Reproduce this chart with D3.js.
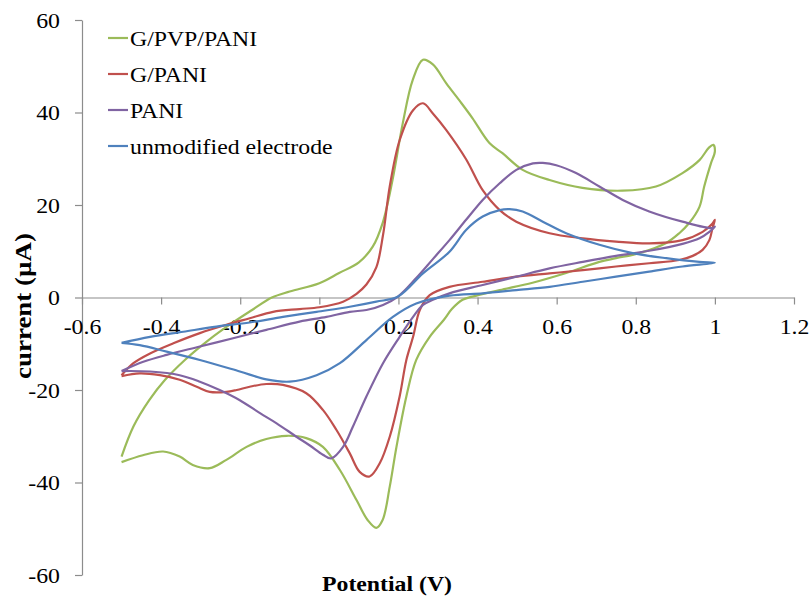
<!DOCTYPE html>
<html>
<head>
<meta charset="utf-8">
<script src="https://cdn.jsdelivr.net/npm/d3@7"></script>
<style>
  html, body { margin: 0; padding: 0; background: #fff; }
  svg { display: block; }
  text { font-family: "Liberation Serif", "Times New Roman", serif; fill: #000; }
</style>
</head>
<body>
<svg id="chart" width="811" height="598"></svg>
<script>
// Cyclic voltammograms: each loop is the anodic sweep (-0.5 V -> 1.0 V)
// followed by the cathodic return sweep, as [potential (V), current (µA)].
const gPvpPani = [
  [-0.50,-34.4],[-0.47,-27.9],[-0.43,-22.2],[-0.39,-17.8],[-0.34,-13.5],[-0.28,-9.2],
  [-0.22,-5.5],[-0.17,-2.7],[-0.12,0.0],[-0.075,1.3],[0.0,3.1],[0.05,5.3],[0.10,7.6],
  [0.135,11.0],[0.16,16.1],[0.185,25.4],[0.211,37.7],[0.236,47.0],[0.262,51.4],
  [0.287,50.4],[0.321,46.3],[0.355,42.5],[0.387,38.8],[0.43,33.4],[0.463,31.2],
  [0.514,27.6],[0.582,25.4],[0.665,23.7],[0.766,23.1],
  [0.851,24.0],[0.918,26.9],[0.961,29.7],[0.985,32.4],[0.996,33.0],[1.0,31.6],
  [0.99,29.0],[0.973,24.0],[0.961,19.6],[0.935,16.1],[0.91,13.9],[0.877,11.8],
  [0.809,9.6],[0.75,8.5],[0.708,7.7],[0.624,5.3],[0.539,3.2],[0.456,1.6],[0.387,0.2],
  [0.362,-0.5],[0.335,-2.5],[0.315,-4.8],[0.279,-8.5],[0.245,-13.5],[0.22,-21.4],
  [0.195,-32.3],[0.178,-40.9],[0.16,-48.1],[0.144,-49.8],[0.122,-48.1],[0.094,-43.8],
  [0.052,-37.3],[0.009,-32.3],[-0.033,-30.4],[-0.083,-29.9],[-0.134,-30.6],
  [-0.184,-32.3],[-0.235,-35.1],[-0.277,-36.9],[-0.32,-36.2],[-0.353,-34.4],
  [-0.395,-33.3],[-0.446,-34.1],[-0.50,-35.6]
];

const gPani = [
  [-0.50,-16.8],[-0.47,-14.2],[-0.428,-12.1],[-0.369,-9.9],[-0.302,-7.7],[-0.235,-5.9],
  [-0.176,-4.5],[-0.117,-3.1],[-0.05,-2.5],[0.0,-2.1],[0.06,-0.9],[0.094,0.8],
  [0.119,2.8],[0.144,6.5],[0.161,13.5],[0.178,24.0],[0.203,34.0],[0.237,40.5],
  [0.262,42.0],[0.287,39.8],[0.321,36.2],[0.371,29.9],[0.413,23.2],[0.456,18.9],
  [0.498,16.4],[0.582,13.9],[0.666,12.8],[0.75,12.1],
  [0.834,11.7],[0.918,12.4],[0.969,14.2],[0.994,16.0],[1.0,16.8],
  [0.994,15.0],[0.986,12.4],[0.969,10.3],[0.944,9.0],[0.91,8.1],[0.834,7.4],
  [0.75,6.7],[0.666,5.9],[0.582,5.2],[0.498,4.5],[0.413,3.4],[0.329,2.3],[0.279,0.5],
  [0.254,-2.7],[0.237,-8.5],[0.22,-13.5],[0.203,-21.4],[0.178,-30.1],[0.153,-35.8],
  [0.127,-38.7],[0.102,-37.7],[0.077,-33.7],[0.043,-28.6],[0.009,-24.3],[-0.033,-20.7],
  [-0.092,-18.9],[-0.134,-18.7],[-0.176,-19.3],[-0.209,-20.0],[-0.235,-20.4],
  [-0.277,-20.4],[-0.31,-19.3],[-0.353,-17.8],[-0.403,-16.8],[-0.454,-16.4],[-0.50,-17.0]
];

const pani = [
  [-0.50,-15.9],[-0.445,-13.9],[-0.386,-12.4],[-0.302,-10.6],[-0.218,-8.8],[-0.134,-7.0],
  [-0.05,-5.2],[0.018,-4.2],[0.077,-3.1],[0.119,-2.7],[0.161,-1.6],[0.199,0.2],
  [0.245,4.2],[0.287,8.3],[0.329,12.4],[0.371,16.8],[0.413,21.1],[0.456,24.7],
  [0.498,27.6],[0.54,29.0],[0.565,29.1],[0.599,28.6],[0.649,26.9],[0.708,24.0],
  [0.767,21.1],[0.834,18.6],[0.918,16.4],[0.994,15.0],[1.0,15.3],
  [0.986,14.2],[0.961,12.8],[0.918,11.6],[0.834,10.1],[0.75,9.0],[0.666,7.7],
  [0.582,6.3],[0.498,4.5],[0.413,2.7],[0.329,0.9],[0.287,-0.5],[0.262,-1.6],
  [0.237,-4.2],[0.203,-8.5],[0.161,-14.2],[0.119,-21.4],[0.085,-27.9],[0.06,-32.3],
  [0.03,-34.8],[0.009,-34.0],[-0.024,-32.0],[-0.058,-30.1],[-0.108,-27.2],[-0.15,-25.0],
  [-0.201,-22.2],[-0.252,-20.0],[-0.302,-18.2],[-0.353,-16.8],[-0.428,-16.0],[-0.50,-15.9]
];

const bareElectrode = [
  [-0.50,-9.8],[-0.428,-8.5],[-0.344,-7.4],[-0.26,-6.3],[-0.176,-5.4],[-0.092,-4.2],
  [-0.007,-3.1],[0.077,-2.0],[0.144,-0.9],[0.199,0.2],[0.262,5.2],[0.329,9.9],
  [0.371,14.6],[0.413,17.5],[0.456,18.9],[0.481,19.1],[0.514,18.6],[0.565,16.4],
  [0.624,13.9],[0.708,11.4],[0.792,9.6],[0.877,8.5],[0.961,7.7],[1.0,7.5],
  [0.918,6.7],[0.834,5.6],[0.75,4.5],[0.666,3.4],[0.582,2.3],[0.498,1.6],[0.413,0.9],
  [0.329,0.4],[0.245,-1.3],[0.186,-4.2],[0.119,-9.2],[0.052,-14.2],[-0.007,-16.8],
  [-0.075,-18.2],[-0.134,-17.7],[-0.201,-16.0],[-0.302,-13.5],[-0.386,-11.7],
  [-0.454,-10.3],[-0.50,-9.8]
];

const seriesNames = ["G/PVP/PANI", "G/PANI", "PANI", "unmodified electrode"];
const seriesColors = ["#9BBB59", "#C0504D", "#8064A2", "#4F81BD"];
const seriesData = [gPvpPani, gPani, pani, bareElectrode];

const xTicks = [-0.6, -0.4, -0.2, 0, 0.2, 0.4, 0.6, 0.8, 1, 1.2];
const yTicks = [-60, -40, -20, 0, 20, 40, 60];

const svg = d3.select("#chart");
const axisColor = "#8c8c8c";
const widen = 1.08; // glyphs are drawn slightly wide

// Stretch a text element horizontally while keeping its anchor
function stretch(sel, factor) {
  sel.each(function () {
    const w = this.getComputedTextLength();
    this.setAttribute("textLength", (w * factor).toFixed(1));
    this.setAttribute("lengthAdjust", "spacingAndGlyphs");
  });
}

const x = d3.scaleLinear().domain([-0.6, 1.2]).range([82, 794]);
const y = d3.scaleLinear().domain([-60, 60]).range([575, 20]);

// Vertical axis on the left edge of the plot
const yAxis = svg.append("g")
  .attr("transform", `translate(${x(-0.6)},0)`)
  .call(d3.axisLeft(y).tickValues(yTicks).tickSize(7).tickSizeOuter(0)
    .tickPadding(15).tickFormat(d => String(d)));

// Horizontal axis through zero current
const xAxis = svg.append("g")
  .attr("transform", `translate(0,${y(0)})`)
  .call(d3.axisBottom(x).tickValues(xTicks).tickSize(7).tickSizeOuter(0)
    .tickPadding(14).tickFormat(d => String(+d.toFixed(1))));

[xAxis, yAxis].forEach(a => {
  a.select(".domain").attr("stroke", axisColor).attr("stroke-width", 1.2);
  a.selectAll(".tick line").attr("stroke", axisColor).attr("stroke-width", 1.2);
  a.selectAll(".tick text").attr("font-size", 22).attr("fill", "#000");
  stretch(a.selectAll(".tick text"), widen);
});

// Curves
const line = d3.line()
  .x(d => x(d[0]))
  .y(d => y(d[1]))
  .curve(d3.curveCatmullRom.alpha(0.5));

svg.append("g").selectAll("path.cv")
  .data(seriesData)
  .join("path")
  .attr("class", "cv")
  .attr("d", line)
  .attr("fill", "none")
  .attr("stroke", (d, i) => seriesColors[i])
  .attr("stroke-width", 2.2)
  .attr("stroke-linejoin", "round");

// Legend
const legend = svg.append("g").attr("transform", "translate(108,0)");
seriesNames.forEach((name, i) => {
  const cy = 38 + i * 36;
  legend.append("line")
    .attr("x1", 0).attr("x2", 20)
    .attr("y1", cy).attr("y2", cy)
    .attr("stroke", seriesColors[i]).attr("stroke-width", 2.2);
  legend.append("text")
    .attr("x", 22).attr("y", cy + 8)
    .attr("font-size", 22)
    .text(name);
});
stretch(legend.selectAll("text"), widen);

// Axis titles
svg.append("text")
  .attr("x", 387).attr("y", 591)
  .attr("text-anchor", "middle")
  .attr("font-size", 21).attr("font-weight", "bold")
  .attr("textLength", 130).attr("lengthAdjust", "spacingAndGlyphs")
  .text("Potential (V)");

svg.append("text")
  .attr("transform", "translate(31,306) rotate(-90)")
  .attr("text-anchor", "middle")
  .attr("font-size", 24).attr("font-weight", "bold")
  .attr("textLength", 146).attr("lengthAdjust", "spacingAndGlyphs")
  .text("current (µA)");
</script>
</body>
</html>
